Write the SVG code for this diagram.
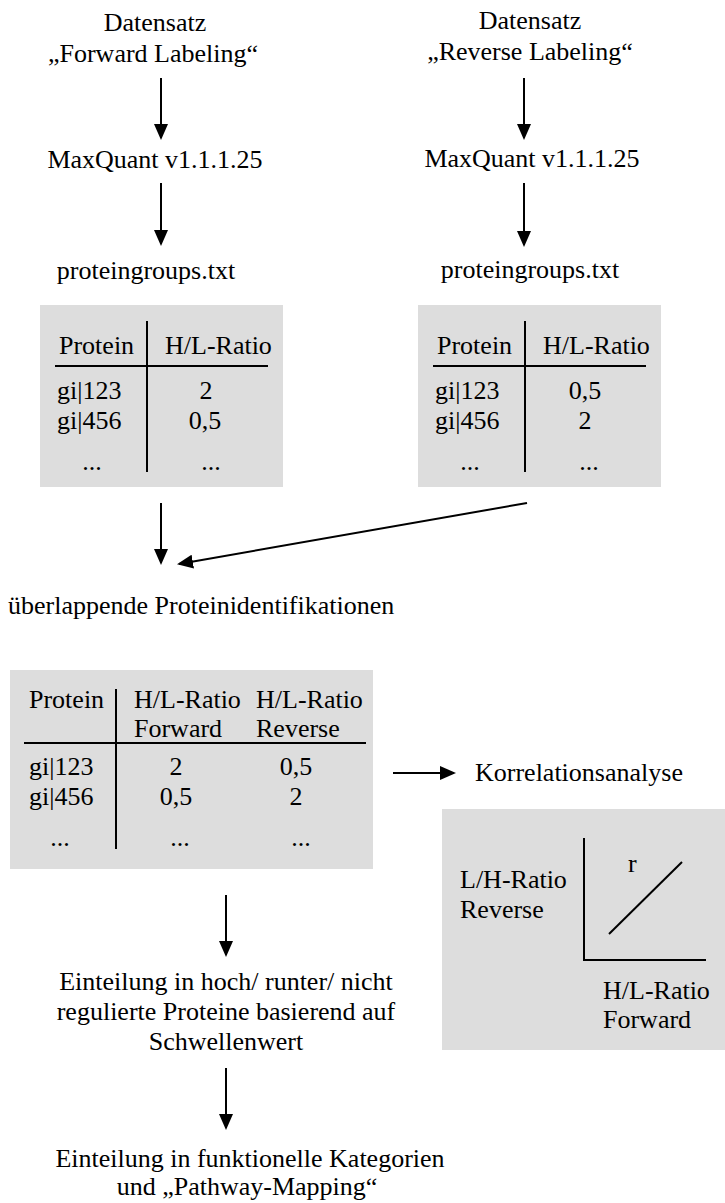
<svg xmlns="http://www.w3.org/2000/svg" width="725" height="1203" viewBox="0 0 725 1203">
  <style>
    text { font-family: "Liberation Serif", "Times New Roman", serif; font-size: 26px; fill: #000; }
    .c { text-anchor: middle; }
    .box { fill: #dddddd; stroke: none; }
    .rule { stroke: #000; stroke-width: 2; fill: none; }
    .arrow { stroke: #000; stroke-width: 2; fill: none; marker-end: url(#head); }
  </style>
  <defs>
    <marker id="head" markerUnits="userSpaceOnUse" markerWidth="16" markerHeight="14" refX="14" refY="7" orient="auto">
      <path d="M0,0 L16,7 L0,14 Z" fill="#000"/>
    </marker>
  </defs>

  <rect width="725" height="1203" fill="#ffffff"/>

  <!-- forward labeling branch -->
  <g id="forward-dataset">
    <text class="c" x="155" y="31">Datensatz</text>
    <text class="c" x="153" y="62">„Forward Labeling“</text>
  </g>
  <g id="forward-maxquant">
    <text class="c" x="155" y="168">MaxQuant v1.1.1.25</text>
  </g>
  <g id="forward-file">
    <text class="c" x="146" y="279">proteingroups.txt</text>
  </g>
  <g id="forward-table">
    <rect class="box" x="40" y="305" width="243" height="182"/>
    <line class="rule" x1="147" y1="321" x2="147" y2="472"/>
    <line class="rule" x1="55" y1="366" x2="268" y2="366"/>
    <text x="59" y="354">Protein</text>
    <text x="165" y="354">H/L-Ratio</text>
    <text x="57" y="399">gi|123</text>
    <text x="57" y="429">gi|456</text>
    <text class="c" x="92" y="470">...</text>
    <text class="c" x="206" y="399">2</text>
    <text class="c" x="205" y="429">0,5</text>
    <text class="c" x="211" y="470">...</text>
  </g>

  <!-- reverse labeling branch -->
  <g id="reverse-dataset">
    <text class="c" x="530" y="29">Datensatz</text>
    <text class="c" x="530" y="60">„Reverse Labeling“</text>
  </g>
  <g id="reverse-maxquant">
    <text class="c" x="532" y="167">MaxQuant v1.1.1.25</text>
  </g>
  <g id="reverse-file">
    <text class="c" x="530" y="278">proteingroups.txt</text>
  </g>
  <g id="reverse-table">
    <rect class="box" x="418" y="305" width="243" height="182"/>
    <line class="rule" x1="525" y1="321" x2="525" y2="472"/>
    <line class="rule" x1="433" y1="366" x2="646" y2="366"/>
    <text x="437" y="354">Protein</text>
    <text x="543" y="354">H/L-Ratio</text>
    <text x="435" y="399">gi|123</text>
    <text x="435" y="429">gi|456</text>
    <text class="c" x="470" y="470">...</text>
    <text class="c" x="585" y="399">0,5</text>
    <text class="c" x="585" y="429">2</text>
    <text class="c" x="589" y="470">...</text>
  </g>

  <!-- merged identifications -->
  <g id="overlap-label">
    <text x="8" y="614">überlappende Proteinidentifikationen</text>
  </g>
  <g id="merged-table">
    <rect class="box" x="10" y="670" width="363" height="199"/>
    <line class="rule" x1="116" y1="689" x2="116" y2="849"/>
    <line class="rule" x1="24" y1="743" x2="366" y2="743"/>
    <text x="29" y="708">Protein</text>
    <text x="134" y="708">H/L-Ratio</text>
    <text x="134" y="737">Forward</text>
    <text x="256" y="708">H/L-Ratio</text>
    <text x="256" y="737">Reverse</text>
    <text x="29" y="775">gi|123</text>
    <text x="29" y="805">gi|456</text>
    <text class="c" x="176" y="775">2</text>
    <text class="c" x="296" y="775">0,5</text>
    <text class="c" x="176" y="805">0,5</text>
    <text class="c" x="296" y="805">2</text>
    <text class="c" x="60" y="846">...</text>
    <text class="c" x="180" y="846">...</text>
    <text class="c" x="301" y="846">...</text>
  </g>

  <!-- correlation -->
  <g id="correlation-label">
    <text x="475" y="781">Korrelationsanalyse</text>
  </g>
  <g id="correlation-plot">
    <rect class="box" x="442" y="809" width="283" height="241"/>
    <polyline class="rule" points="584,838 584,960 706,960"/>
    <line class="rule" x1="609" y1="934" x2="682" y2="862"/>
    <text x="628" y="872">r</text>
    <text x="460" y="888">L/H-Ratio</text>
    <text x="460" y="918">Reverse</text>
    <text x="603" y="999">H/L-Ratio</text>
    <text x="603" y="1028">Forward</text>
  </g>

  <!-- classification steps -->
  <g id="regulation-step">
    <text class="c" x="226" y="990">Einteilung in hoch/ runter/ nicht</text>
    <text class="c" x="226" y="1020">regulierte Proteine basierend auf</text>
    <text class="c" x="226" y="1050">Schwellenwert</text>
  </g>
  <g id="category-step">
    <text class="c" x="250" y="1167">Einteilung in funktionelle Kategorien</text>
    <text class="c" x="247" y="1195">und „Pathway-Mapping“</text>
  </g>

  <!-- connectors -->
  <g id="connectors">
    <line class="arrow" x1="161" y1="78" x2="161" y2="138"/>
    <line class="arrow" x1="161" y1="183" x2="161" y2="244"/>
    <line class="arrow" x1="524" y1="78" x2="524" y2="138"/>
    <line class="arrow" x1="524" y1="183" x2="524" y2="245"/>
    <line class="arrow" x1="161" y1="503" x2="161" y2="563"/>
    <line class="arrow" x1="527" y1="503" x2="179" y2="564"/>
    <line class="arrow" x1="393" y1="773" x2="454" y2="773"/>
    <line class="arrow" x1="226" y1="895" x2="226" y2="955"/>
    <line class="arrow" x1="226" y1="1068" x2="226" y2="1128"/>
  </g>
</svg>
